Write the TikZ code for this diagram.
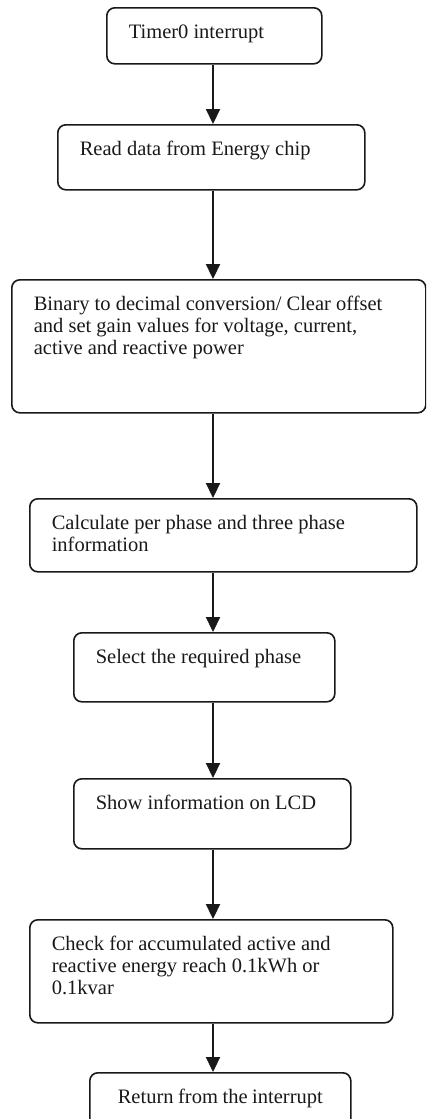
\documentclass[tikz,border=0pt]{standalone}
\usepackage{fontspec}
\setmainfont{Liberation Serif}
\usetikzlibrary{arrows.meta}

\tikzset{
  stepbox/.style={draw=black!90, line width=1.6pt, rounded corners=8pt,
    anchor=north west, inner xsep=22pt, inner ysep=15.6pt,
    font=\fontsize{20.5}{22}\selectfont, text=black!90},
  flow/.style={draw=black!90, line width=2.2pt,
    -{Triangle[width=14pt,length=15pt]}}
}

\begin{document}
\begin{tikzpicture}[x=1pt,y=-1pt]
      \clip (0,0) rectangle (426,1119);

      \coordinate (spine) at (213,0);

      \node[stepbox] (timer) at (106,7)
        {\parbox[t][24.8pt][t]{171pt}{\strut Timer0 interrupt}};
      \node[stepbox] (read) at (57,124)
        {\parbox[t][33.8pt][t]{263pt}{\strut Read data from Energy chip}};
      \node[stepbox] (conv) at (11,279)
        {\parbox[t][101.8pt][t]{370pt}{\raggedright\strut Binary to decimal conversion/ Clear offset\\
          and set gain values for voltage, current,\\ active and reactive power}};
      \node[stepbox] (calc) at (29,498)
        {\parbox[t][41.8pt][t]{343pt}{\raggedright\strut Calculate per phase and three phase\\ information}};
      \node[stepbox] (select) at (73,632)
        {\parbox[t][37.8pt][t]{217pt}{\strut Select the required phase}};
      \node[stepbox] (lcd) at (73,778)
        {\parbox[t][38.8pt][t]{233pt}{\strut Show information on LCD}};
      \node[stepbox] (check) at (29,919)
        {\parbox[t][71.8pt][t]{319pt}{\raggedright\strut Check for accumulated active and\\
          reactive energy reach 0.1kWh or\\ 0.1kvar}};
      \node[stepbox, inner xsep=28pt] (ret) at (89,1072)
        {\parbox[t][30pt][t]{205pt}{\strut Return from the interrupt}};

      % all arrows run down one vertical line
      \draw[flow] (timer.south -| spine)  -- (read.north -| spine);
      \draw[flow] (read.south -| spine)   -- (conv.north -| spine);
      \draw[flow] (conv.south -| spine)   -- (calc.north -| spine);
      \draw[flow] (calc.south -| spine)   -- (select.north -| spine);
      \draw[flow] (select.south -| spine) -- (lcd.north -| spine);
      \draw[flow] (lcd.south -| spine)    -- (check.north -| spine);
      \draw[flow] (check.south -| spine)  -- (ret.north -| spine);
    \end{tikzpicture}
\end{document}
